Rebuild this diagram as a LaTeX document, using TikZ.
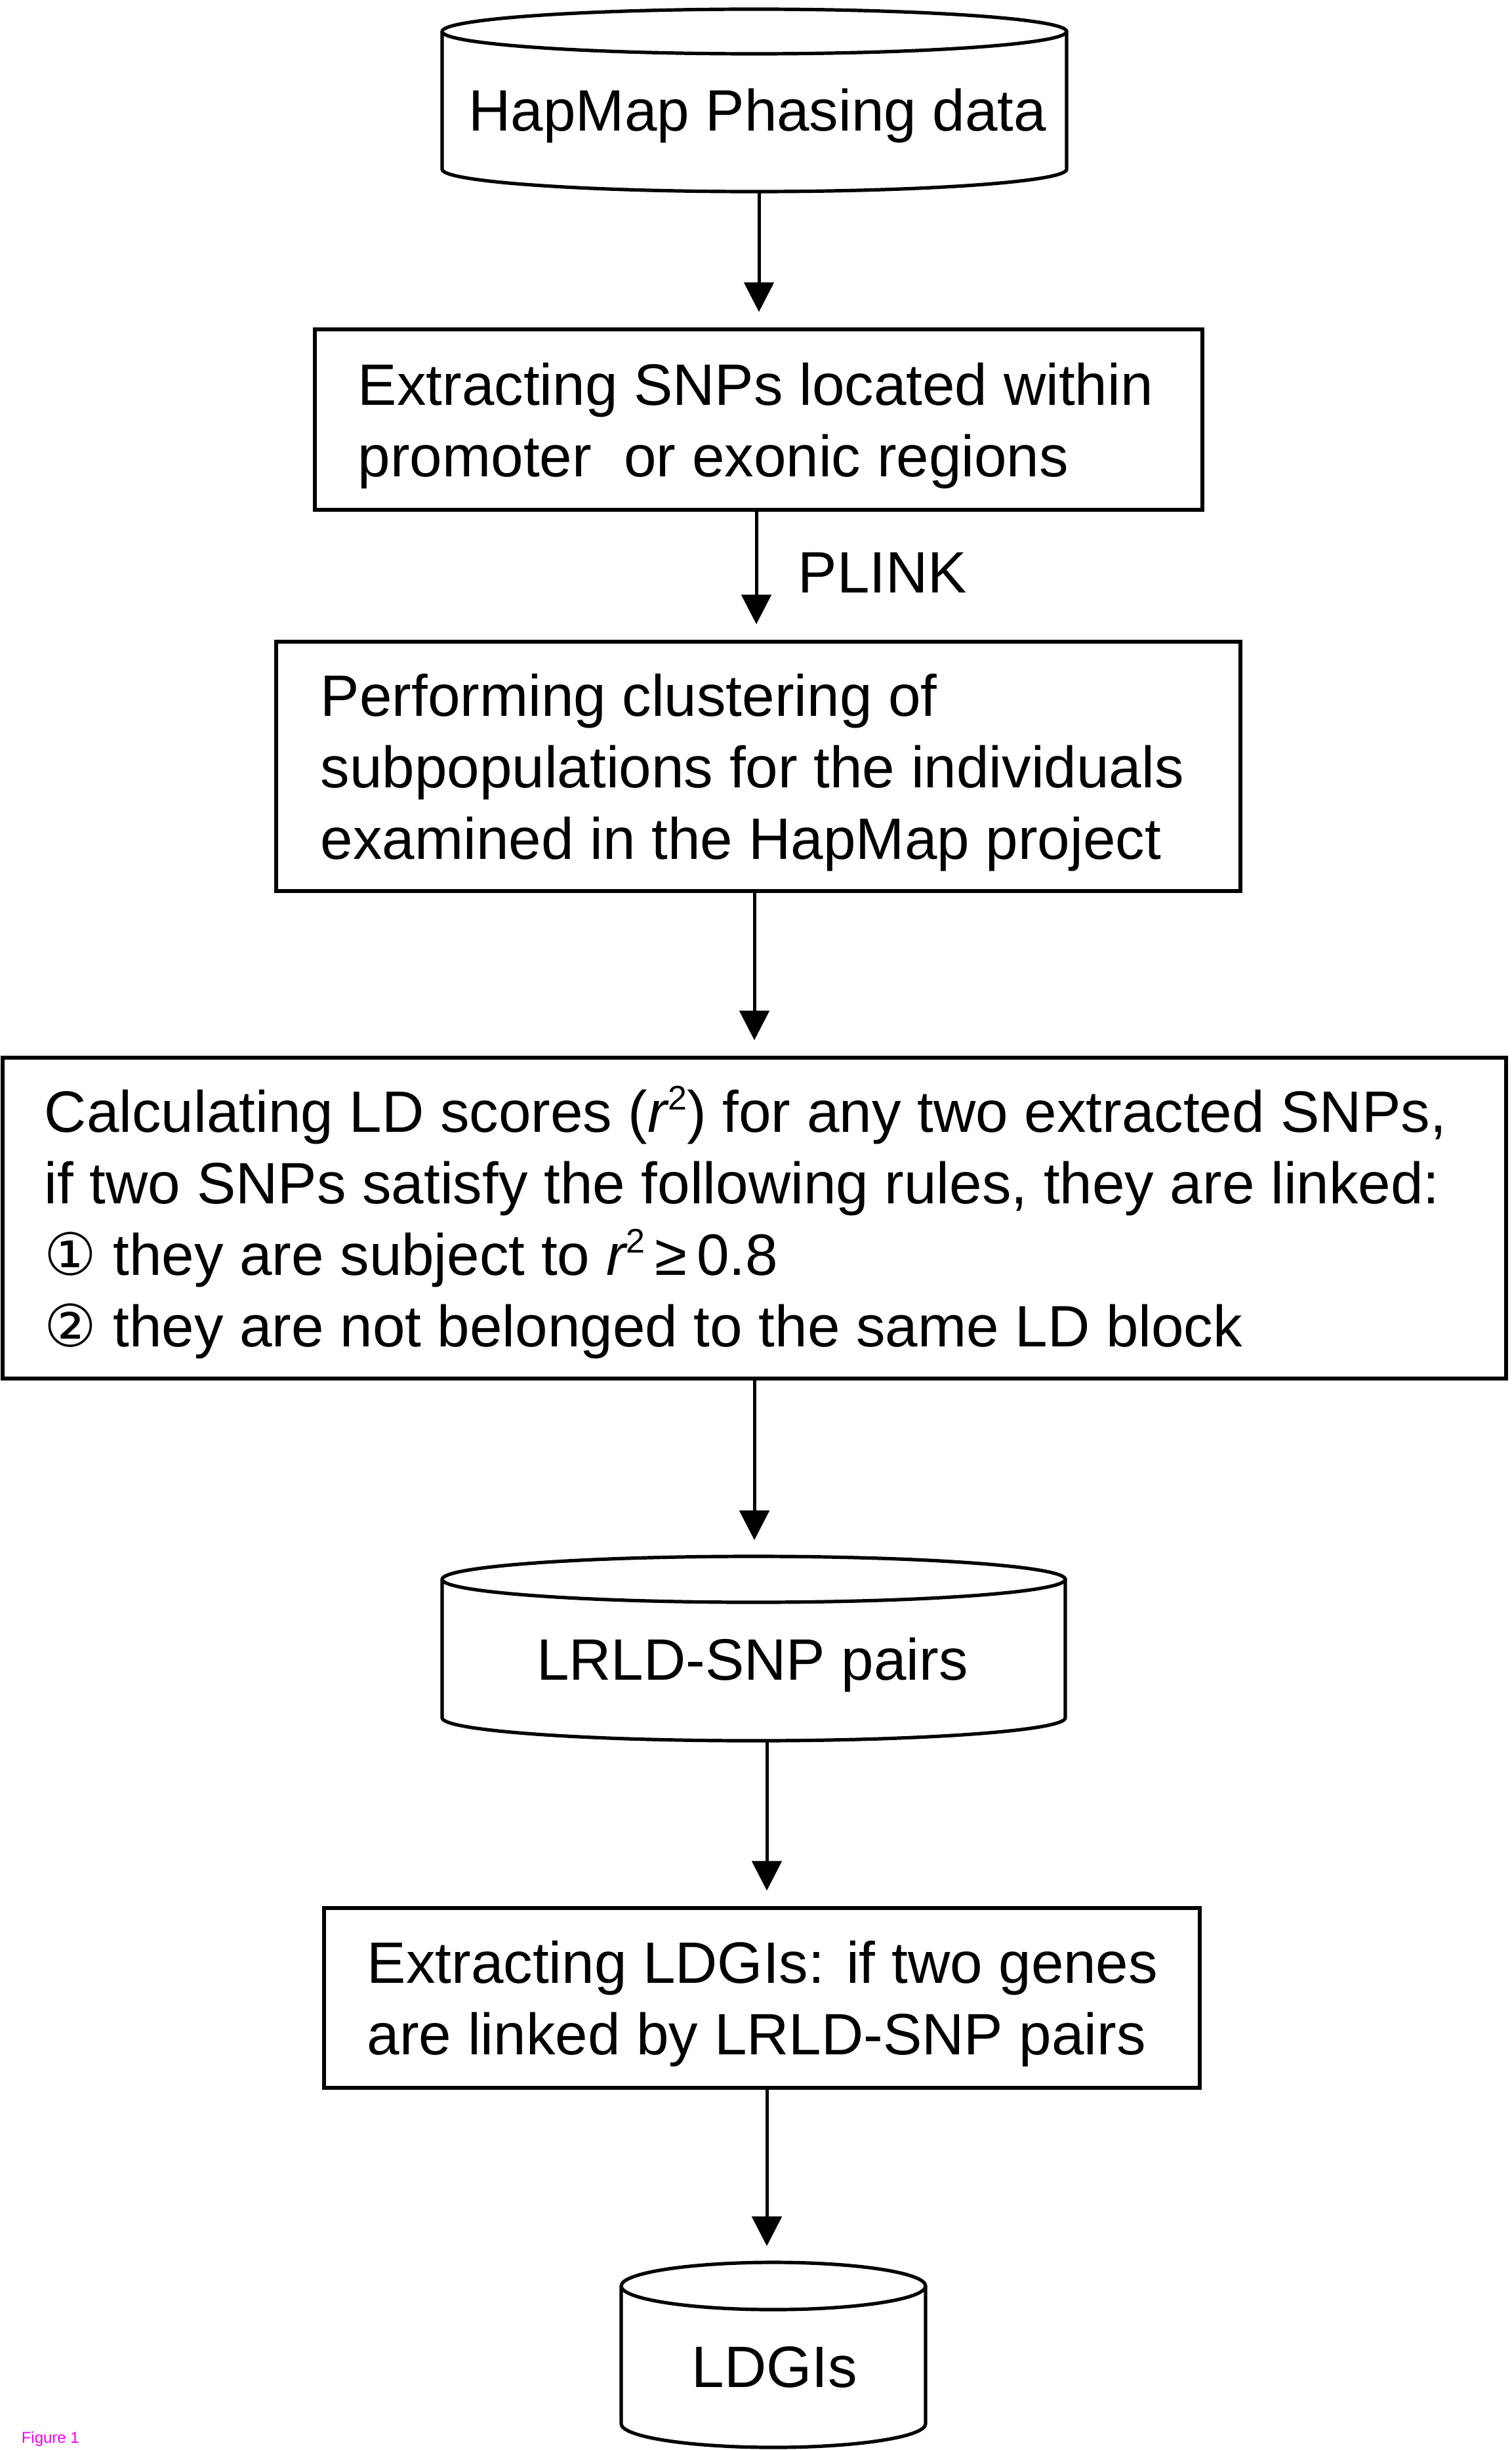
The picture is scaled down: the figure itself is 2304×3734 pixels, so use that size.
\documentclass[tikz,border=0pt]{standalone}
\usepackage{fontspec}
\setmainfont{Liberation Sans}
\newfontfamily\symfont{DejaVu Sans}
\usetikzlibrary{arrows.meta}
\definecolor{figmag}{RGB}{240,0,240}
\newcommand\tstrut{\rule{0pt}{22.5pt}}
\newcommand\bstrut{\rule[-6.5pt]{0pt}{6.5pt}}
\newcommand\rsq{\textit{r}\kern-0.5pt\raisebox{8.5pt}{\fontsize{13pt}{13pt}\selectfont 2}}
\begin{document}
\begin{tikzpicture}[x=0.25pt,y=0.25pt,
  shapeline/.style={line width=1.3pt, draw=black},
  procbox/.style={draw=black, line width=1.3pt, inner sep=0pt, rectangle},
  cylbody/.style={inner sep=0pt, rectangle},
  lbl/.style={inner sep=0pt, font=\fontsize{22.25pt}{27.25pt}\selectfont, align=left},
  arr/.style={line width=1.25pt, -{Triangle[length=11.25pt,width=11.25pt]}, shorten >=6pt}
]
\fill[white] (0,0) rectangle (2304,-3734);
\useasboundingbox (0,0) rectangle (2304,-3734);

% cylinder 1
\draw[shapeline] (1150,-48) ellipse[x radius=119pt, y radius=8.5pt];
\draw[shapeline] (674,-48) -- (674,-258) arc[start angle=180, end angle=360, x radius=119pt, y radius=8.5pt] -- (1626,-48);
\node[cylbody, minimum width=238pt, minimum height=69.5pt] (cyl1) at (1150,-153) {};
\node[lbl, anchor=base] (cyl1t) at (1155,-200) {HapMap Phasing data};

% box 2
\node[procbox, minimum width=338.25pt, minimum height=68.75pt] (box2) at (1156.5,-639.5) {};
\node[lbl, anchor=west] (box2t) at (545,-639.5) {\tstrut Extracting SNPs located within\\promoter~ or exonic regions\bstrut};

\node[lbl, anchor=base west] (plink) at (1216,-903) {PLINK};

% box 3
\node[procbox, minimum width=367.5pt, minimum height=95pt] (box3) at (1156,-1168) {};
\node[lbl, anchor=west] (box3t) at (488,-1168) {\tstrut Performing clustering of\\subpopulations for the individuals\\examined in the HapMap project\bstrut};

% box 4
\node[procbox, minimum width=573pt, minimum height=122.25pt] (box4) at (1150,-1856.5) {};
\node[lbl, anchor=west] (box4t) at (67,-1856.5) {\tstrut Calculating LD scores (\rsq) for any two extracted SNPs,\\if two SNPs satisfy the following rules, they are linked:\\{\symfont ①} they are subject to \rsq\,≥\,0.8\\{\symfont ②} they are not belonged to the same LD block\bstrut};

% cylinder 2
\draw[shapeline] (1149,-2407) ellipse[x radius=118.75pt, y radius=8.75pt];
\draw[shapeline] (674,-2407) -- (674,-2618) arc[start angle=180, end angle=360, x radius=118.75pt, y radius=8.75pt] -- (1624,-2407);
\node[cylbody, minimum width=237.5pt, minimum height=70.25pt] (cyl2) at (1149,-2512.5) {};
\node[lbl, anchor=base] (cyl2t) at (1147,-2560) {LRLD-SNP pairs};

% box 6
\node[procbox, minimum width=333.75pt, minimum height=68.5pt] (box6) at (1161.5,-3045) {};
\node[lbl, anchor=west] (box6t) at (559,-3045) {\tstrut Extracting LDGIs: if two genes\\are linked by LRLD-SNP pairs\bstrut};

% cylinder 3
\draw[shapeline] (1179,-3484) ellipse[x radius=58pt, y radius=9pt];
\draw[shapeline] (947,-3484) -- (947,-3694) arc[start angle=180, end angle=360, x radius=58pt, y radius=9pt] -- (1411,-3484);
\node[cylbody, minimum width=116pt, minimum height=70.5pt] (cyl3) at (1179,-3589) {};
\node[lbl, anchor=base] (cyl3t) at (1181,-3638) {LDGIs};

\node[anchor=base west, inner sep=0pt, text=figmag, font=\fontsize{6pt}{7pt}\selectfont] (fig) at (32,-3723) {Figure 1};

% connectors
\draw[arr] ([xshift=1.75pt]cyl1.south) -- ([xshift=1.75pt]cyl1.south |- box2.north);
\draw[arr] ([xshift=-0.875pt]box2.south) -- ([xshift=-0.875pt]box2.south |- box3.north);
\draw[arr] ([xshift=-1.5pt]box3.south) -- ([xshift=-1.5pt]box3.south |- box4.north);
\draw[arr] (box4.south) -- (box4.south |- cyl2.north);
\draw[arr] ([xshift=5pt]cyl2.south) -- ([xshift=5pt]cyl2.south |- box6.north);
\draw[arr] ([xshift=1.875pt]box6.south) -- ([xshift=1.875pt]box6.south |- cyl3.north);
\end{tikzpicture}
\end{document}
